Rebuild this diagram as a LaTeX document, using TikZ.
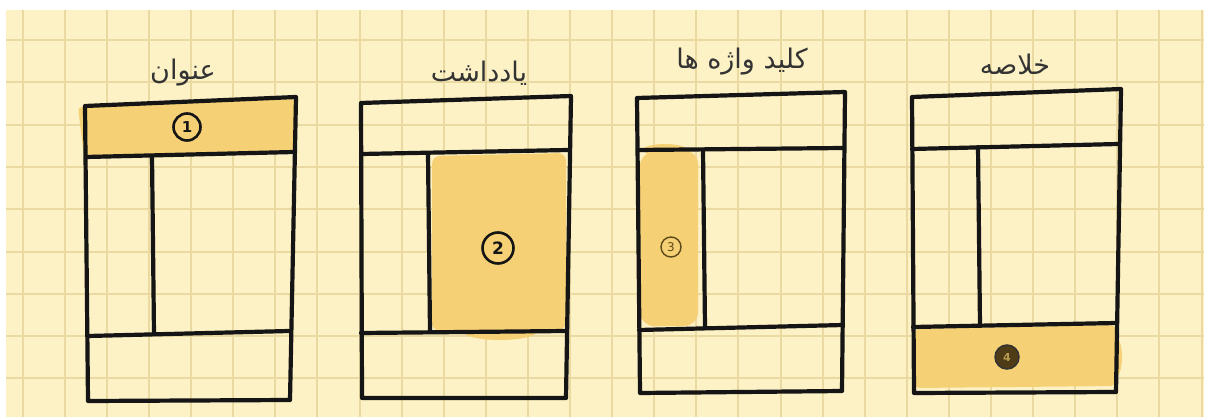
\documentclass[tikz,border=0pt]{standalone}
\usepackage{fontspec}
\newfontfamily\arabicfont[Script=Arabic]{DejaVu Sans}
\newfontfamily\numfont{DejaVu Sans}
\TeXXeTstate=1
\definecolor{paper}{HTML}{FDF2C6}
\definecolor{gridc}{HTML}{EAD9A0}
\definecolor{hl}{HTML}{F5D075}
\definecolor{inkc}{HTML}{151515}
\definecolor{brownc}{HTML}{5C4818}
\definecolor{darkdot}{HTML}{4E3C17}
\definecolor{dotnum}{HTML}{B89A50}
\tikzset{
  inkline/.style={draw=inkc, line width=4.2pt, line cap=round, line join=round},
  gridline/.style={draw=gridc, line width=2pt},
  hlfill/.style={fill=hl, draw=none},
  titletext/.style={font=\arabicfont\fontsize{27}{32}\selectfont, text=black!80, inner sep=0pt},
  handnum/.style={circle, draw=inkc, line width=2.6pt, inner sep=0pt, font=\numfont\bfseries\fontsize{15}{15}\selectfont, text=inkc}
}
\begin{document}
\begin{tikzpicture}[x=1pt,y=-1pt]
\useasboundingbox (0,0) rectangle (1206,417);
\fill[white] (0,0) rectangle (1206,417);
\fill[paper] (6,10) rectangle (1204,417);
% grid
\begin{scope}
\clip (6,10) rectangle (1204,417);
\foreach \i in {0,...,28} \draw[gridline] ({22.7+42.1*\i},10) -- ({22.7+42.1*\i},417);
\foreach \j in {0,...,9} \draw[gridline] (6,{40+42.3*\j}) -- (1204,{40+42.3*\j});
\end{scope}
% highlights
\fill[hlfill, rounded corners=4pt] (78,107) -- (296,99) -- (294,153) -- (84,157) -- cycle;
\fill[hlfill, rounded corners=8pt] (432,156) -- (566,153) -- (566,330) -- (432,331) -- cycle;
\fill[hlfill] (500,332) ellipse [x radius=36pt, y radius=8pt];
\fill[hlfill, rounded corners=14pt] (640,152) -- (698,150) -- (698,326) -- (640,326) -- cycle;
\fill[hlfill] (665,150) ellipse [x radius=22pt, y radius=6pt];
\fill[hlfill, rounded corners=6pt] (914,329) -- (1116,325) -- (1116,386) -- (914,388) -- cycle;
\fill[hlfill] (1114,357) ellipse [x radius=8pt, y radius=22pt];
% box 1
\coordinate (a1) at (85,106); \coordinate (a2) at (296,97);
\coordinate (a3) at (290,400); \coordinate (a4) at (88,401);
\draw[inkline] (a1) -- (a2) -- (a3) -- (a4) -- cycle;
\draw[inkline] (86,157) -- (294,152);
\draw[inkline] (152,156) -- (154,334);
\draw[inkline] (88,336) -- (289,331);
% box 2
\coordinate (b1) at (361,103); \coordinate (b2) at (571,96);
\coordinate (b3) at (566,398); \coordinate (b4) at (362,398);
\draw[inkline] (b1) -- (b2) -- (b3) -- (b4) -- cycle;
\draw[inkline] (361,154) -- (568,150);
\draw[inkline] (428,154) -- (430,332);
\draw[inkline] (361,333) -- (566,331);
% box 3
\coordinate (c1) at (637,98); \coordinate (c2) at (845,92);
\coordinate (c3) at (842,391); \coordinate (c4) at (640,393);
\draw[inkline] (c1) -- (c2) -- (c3) -- (c4) -- cycle;
\draw[inkline] (638,150) -- (843,148);
\draw[inkline] (703,150) -- (705,328);
\draw[inkline] (639,330) -- (843,325);
% box 4
\coordinate (d1) at (912,97); \coordinate (d2) at (1121,89);
\coordinate (d3) at (1116,392); \coordinate (d4) at (914,393);
\draw[inkline] (d1) -- (d2) -- (d3) -- (d4) -- cycle;
\draw[inkline] (912,149) -- (1118,144);
\draw[inkline] (978,147) -- (980,326);
\draw[inkline] (913,327) -- (1116,323);
% titles
\node[titletext] (t1) at (183,73) {\beginR عنوان\endR};
\node[titletext] (t2) at (479,73) {\beginR یادداشت\endR};
\node[titletext] (t3) at (742,62) {\beginR کلید واژه ها\endR};
\node[titletext] (t4) at (1015,64) {\beginR خلاصه\endR};
% numbers
\node[handnum, minimum size=27pt] (n1) at (187,127) {1};
\node[handnum, minimum size=31pt, font=\numfont\bfseries\fontsize{17}{17}\selectfont] (n2) at (498,248) {2};
\node[circle, draw=brownc, line width=1.4pt, inner sep=0pt, minimum size=20pt, text=brownc, font=\numfont\fontsize{12}{12}\selectfont] (n3) at (671,247) {3};
\node[circle, fill=darkdot, draw=black!80, line width=1.5pt, inner sep=0pt, minimum size=24pt, text=dotnum, font=\numfont\bfseries\fontsize{11}{11}\selectfont] (n4) at (1007,357) {4};
\end{tikzpicture}
\end{document}
